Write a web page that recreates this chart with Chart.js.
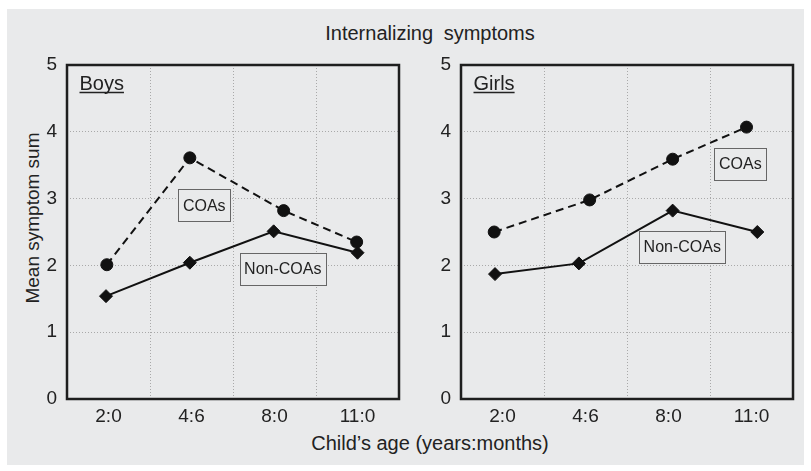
<!DOCTYPE html>
<html><head><meta charset="utf-8">
<script src="https://cdn.jsdelivr.net/npm/chart.js@4.4.0/dist/chart.umd.min.js"></script>
<style>
html,body{margin:0;padding:0;background:#fff;width:811px;height:471px;overflow:hidden;font-family:"Liberation Sans",Arial,sans-serif;color:#222;}
#panel{position:absolute;left:7px;top:9px;width:797px;height:456px;background:#e9eaeb;}
canvas{position:absolute;top:0;}
.txt{position:absolute;white-space:nowrap;line-height:20px;height:20px;text-align:center;}
</style></head><body>
<div id="panel"></div>
<div class="txt" style="left:230px;width:400px;top:23px;font-size:20px;word-spacing:5px;">Internalizing symptoms</div>
<div class="txt" style="left:230px;width:400px;top:433px;font-size:20px;">Child’s age (years:months)</div>
<div class="txt" style="left:-117px;width:300px;top:208px;font-size:19px;transform:rotate(-90deg);transform-origin:50% 50%;">Mean symptom sum</div>
<canvas id="boys" width="410" height="440" style="left:0px;"></canvas>
<canvas id="girls" width="385" height="440" style="left:420px;"></canvas>
<script>
// ---- data ----
const ageLabels = ['2:0', '4:6', '8:0', '11:0'];
const ageTickPos = [0.5, 1.5, 2.5, 3.5];
const gridPos = [0, 1, 2, 3, 4];

const boysCoaX = [0.48, 1.48, 2.61, 3.49];
const boysCoaY = [2.01, 3.61, 2.82, 2.35];
const boysNonX = [0.47, 1.48, 2.49, 3.50];
const boysNonY = [1.54, 2.04, 2.51, 2.19];

const girlsCoaX = [0.40, 1.55, 2.55, 3.44];
const girlsCoaY = [2.50, 2.98, 3.59, 4.07];
const girlsNonX = [0.41, 1.42, 2.55, 3.57];
const girlsNonY = [1.87, 2.03, 2.82, 2.50];

const boysLabels = [{text: 'COAs', x: 1.654, y: 2.90}, {text: 'Non-COAs', x: 2.60, y: 1.95}];
const girlsLabels = [{text: 'COAs', x: 3.365, y: 3.52}, {text: 'Non-COAs', x: 2.666, y: 2.28}];

// ---- styles ----
const FONT = '"Liberation Sans", Arial, sans-serif';
const TEXT = '#222222';
const BG = '#e9eaeb';
const GRID = '#a9a9a9';
const INK = '#111111';

const panelDecor = {
  id: 'panelDecor',
  afterDatasetsDraw(chart, args, opts) {
    const {ctx, chartArea: a, scales: {x, y}} = chart;
    ctx.save();
    ctx.setLineDash([]);
    ctx.strokeStyle = '#1e1e1e';
    ctx.lineWidth = 2.5;
    ctx.strokeRect(a.left, a.top, a.right - a.left, a.bottom - a.top);
    ctx.font = '20px ' + FONT;
    ctx.fillStyle = TEXT;
    ctx.textAlign = 'left';
    ctx.textBaseline = 'alphabetic';
    const tx = a.left + 12.5, ty = a.top + 25;
    ctx.fillText(opts.name, tx, ty);
    const w = ctx.measureText(opts.name).width;
    ctx.strokeStyle = TEXT;
    ctx.lineWidth = 1.3;
    ctx.beginPath(); ctx.moveTo(tx, ty + 2.5); ctx.lineTo(tx + w, ty + 2.5); ctx.stroke();
    ctx.font = '16px ' + FONT;
    opts.labels.forEach(l => {
      const cx = x.getPixelForValue(l.x), cy = y.getPixelForValue(l.y);
      const tw = ctx.measureText(l.text).width;
      const bw = Math.round(tw + 9), bh = 32;
      const bx = Math.round(cx - bw / 2) + 0.5, by = Math.round(cy - bh / 2) + 0.5;
      ctx.fillStyle = BG;
      ctx.fillRect(bx, by, bw, bh);
      ctx.strokeStyle = '#666';
      ctx.lineWidth = 1;
      ctx.strokeRect(bx, by, bw, bh);
      ctx.fillStyle = TEXT;
      ctx.textAlign = 'center';
      ctx.textBaseline = 'middle';
      ctx.fillText(l.text, cx, cy + 1);
    });
    ctx.restore();
  }
};

function makePanel(id, name, coaX, coaY, nonX, nonY, labels, yWidth, padRight) {
  const tickVals = gridPos.concat(ageTickPos).sort((a, b) => a - b);
  return new Chart(document.getElementById(id), {
    type: 'line',
    data: {
      datasets: [
        {
          label: 'COAs',
          data: coaX.map((v, i) => ({x: v, y: coaY[i]})),
          borderColor: INK, borderWidth: 2, borderDash: [8, 5],
          pointStyle: 'circle', pointRadius: 6,
          pointBackgroundColor: INK, pointBorderColor: INK, pointBorderWidth: 1,
          tension: 0, fill: false
        },
        {
          label: 'Non-COAs',
          data: nonX.map((v, i) => ({x: v, y: nonY[i]})),
          borderColor: INK, borderWidth: 2,
          pointStyle: 'rectRot', pointRadius: 6.5,
          pointBackgroundColor: INK, pointBorderColor: INK, pointBorderWidth: 1,
          tension: 0, fill: false
        }
      ]
    },
    options: {
      responsive: false,
      animation: false,
      layout: {padding: {top: 65, right: padRight, left: 0, bottom: 0}},
      plugins: {
        legend: {display: false},
        tooltip: {enabled: false},
        panelDecor: {name: name, labels: labels}
      },
      scales: {
        x: {
          type: 'linear', min: 0, max: 4,
          afterBuildTicks: s => { s.ticks = tickVals.map(v => ({value: v})); },
          afterFit: s => { s.height = 41; },
          grid: {
            drawTicks: false, lineWidth: 1,
            color: c => (c.tick && gridPos.includes(c.tick.value)) ? GRID : 'rgba(0,0,0,0)'
          },
          border: {display: false, dash: [1, 2]},
          ticks: {
            autoSkip: false, maxRotation: 0, minRotation: 0, padding: 6,
            color: TEXT, font: {family: FONT, size: 19},
            callback: v => { const i = ageTickPos.indexOf(v); return i >= 0 ? ageLabels[i] : ''; }
          }
        },
        y: {
          min: 0, max: 5,
          afterFit: s => { s.width = yWidth; },
          grid: {drawTicks: false, color: GRID, lineWidth: 1},
          border: {display: false, dash: [1, 2]},
          ticks: {stepSize: 1, padding: 10, color: TEXT, font: {family: FONT, size: 19}}
        }
      }
    },
    plugins: [panelDecor]
  });
}

makePanel('boys', 'Boys', boysCoaX, boysCoaY, boysNonX, boysNonY, boysLabels, 67, 11);
makePanel('girls', 'Girls', girlsCoaX, girlsCoaY, girlsNonX, girlsNonY, girlsLabels, 41, 12);
</script>
</body></html>
